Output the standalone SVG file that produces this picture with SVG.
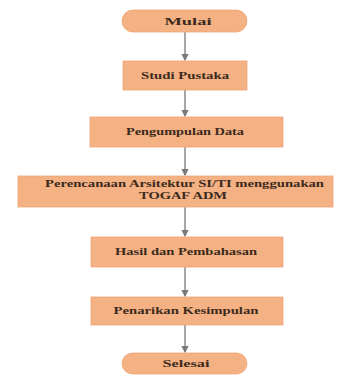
<svg xmlns="http://www.w3.org/2000/svg" width="348" height="381" viewBox="0 0 348 381">
  <defs>
    <marker id="arrow" viewBox="0 0 6 6" refX="5" refY="3" markerWidth="5" markerHeight="5" orient="auto">
      <path d="M0,0 L6,3 L0,6 z" fill="#7a7a7a"/>
    </marker>
  </defs>
  <style>
    .box { fill: #F4B183; stroke: #EDA676; stroke-width: 0.8; }
    .lbl { font-family: "Liberation Serif", "DejaVu Serif", serif; font-weight: bold; font-size: 10px; fill: #3b2a1c; text-anchor: middle; }
    .conn { stroke: #8a8a8a; stroke-width: 1.5; fill: none; marker-end: url(#arrow); }
  </style>
  <rect width="348" height="381" fill="#ffffff"/>

  <g id="connectors">
    <line class="conn" x1="185" y1="32" x2="185" y2="60"/>
    <line class="conn" x1="185" y1="90" x2="185" y2="116"/>
    <line class="conn" x1="185" y1="147" x2="185" y2="175"/>
    <line class="conn" x1="185" y1="207" x2="185" y2="236"/>
    <line class="conn" x1="185" y1="267" x2="185" y2="296"/>
    <line class="conn" x1="185" y1="325" x2="185" y2="352"/>
  </g>

  <g id="mulai">
    <rect class="box" x="122" y="10" width="125" height="22" rx="11"/>
    <text class="lbl" x="188" y="24.5" textLength="47" lengthAdjust="spacingAndGlyphs">Mulai</text>
  </g>

  <g id="studi-pustaka">
    <rect class="box" x="123" y="61" width="124" height="29"/>
    <text class="lbl" x="185" y="79" textLength="88" lengthAdjust="spacingAndGlyphs">Studi Pustaka</text>
  </g>

  <g id="pengumpulan-data">
    <rect class="box" x="90" y="117" width="193" height="30"/>
    <text class="lbl" x="185" y="135" textLength="118" lengthAdjust="spacingAndGlyphs">Pengumpulan Data</text>
  </g>

  <g id="perencanaan">
    <rect class="box" x="18" y="176" width="315" height="31"/>
    <text class="lbl" x="184.5" y="187" textLength="279" lengthAdjust="spacingAndGlyphs">Perencanaan Arsitektur SI/TI menggunakan</text>
    <text class="lbl" x="183" y="198.5" textLength="88" lengthAdjust="spacingAndGlyphs">TOGAF ADM</text>
  </g>

  <g id="hasil">
    <rect class="box" x="91" y="237" width="192" height="30"/>
    <text class="lbl" x="186" y="255" textLength="142" lengthAdjust="spacingAndGlyphs">Hasil dan Pembahasan</text>
  </g>

  <g id="penarikan">
    <rect class="box" x="91" y="297" width="192" height="28"/>
    <text class="lbl" x="186" y="314" textLength="145" lengthAdjust="spacingAndGlyphs">Penarikan Kesimpulan</text>
  </g>

  <g id="selesai">
    <rect class="box" x="122" y="353" width="125" height="21" rx="10.5"/>
    <text class="lbl" x="186" y="367" textLength="47" lengthAdjust="spacingAndGlyphs">Selesai</text>
  </g>
</svg>
